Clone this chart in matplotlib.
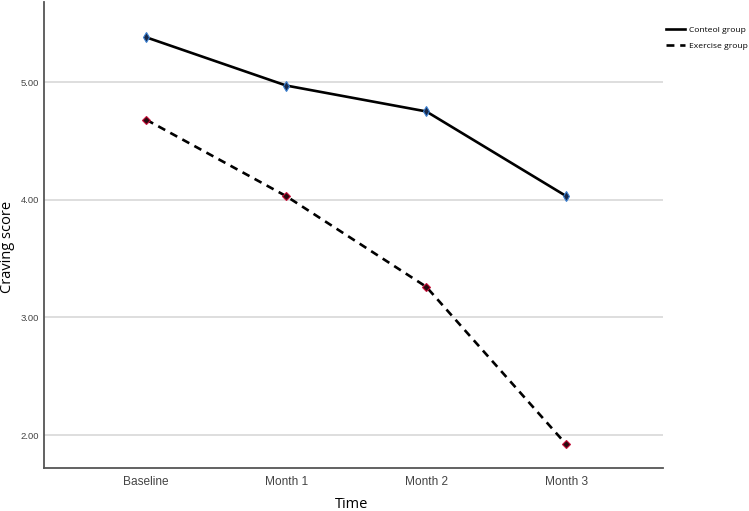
import matplotlib
matplotlib.use("Agg")
import matplotlib.pyplot as plt
from matplotlib.lines import Line2D

time_labels = ["Baseline", "Month 1", "Month 2", "Month 3"]
control = [5.38, 4.97, 4.75, 4.03]
exercise = [4.68, 4.03, 3.26, 1.92]
y_ticks = [2.0, 3.0, 4.0, 5.0]

fig = plt.figure(figsize=(7.49, 5.11), dpi=100)
ax = fig.add_axes([0.0587, 0.0841, 0.8264, 0.912])

x = list(range(len(time_labels)))
for yt in y_ticks:
    ax.axhline(yt, color="#d4d4d4", lw=1.1, zorder=0)

ax.plot(x, control, color="black", lw=1.9, zorder=2)
ax.plot(x, control, ls="none", marker="d", ms=5.5, mfc="#1a2a4a",
        mec="#3a7fd0", mew=0.8, zorder=3)
ax.plot(x, exercise, color="black", lw=1.9, ls=(0, (3, 2.2)), zorder=2)
ax.plot(x, exercise, ls="none", marker="D", ms=3.6, mfc="#2a0a10",
        mec="#c8103a", mew=0.8, zorder=3)

ax.set_xlim(-0.73, 3.69)
ax.set_ylim(1.72, 5.68)
ax.set_xticks(x)
ax.set_xticklabels(time_labels, fontsize=8.6, color="#444444", family="Liberation Sans")
ax.set_yticks(y_ticks)
ax.set_yticklabels([f"{v:.2f}" for v in y_ticks], fontsize=6.8, color="#444444",
                   family="Liberation Sans")
ax.tick_params(axis="y", length=0, pad=3.5)
ax.tick_params(axis="x", length=0, pad=6)

for s in ["top", "right"]:
    ax.spines[s].set_visible(False)
for s in ["left", "bottom"]:
    ax.spines[s].set_color("#555555")
    ax.spines[s].set_linewidth(1.3)

ax.set_xlabel("Time", fontsize=10.5, family="Open Sans")
ax.set_ylabel("Craving score", fontsize=10.5, family="Open Sans")
ax.xaxis.set_label_coords(0.497, -0.063)
ax.yaxis.set_label_coords(-0.046, 0.5 - 12 / 466)

handles = [Line2D([], [], color="black", lw=1.9),
           Line2D([], [], color="black", lw=1.9, ls=(0, (3, 2.2)))]
leg = fig.legend(handles, ["Conteol group", "Exercise group"],
                 loc="upper left", bbox_to_anchor=(0.889, 0.949),
                 frameon=False, prop={"family": "Open Sans", "size": 6.1},
                 handlelength=2.3, handletextpad=0.4, labelspacing=0.95,
                 borderaxespad=0, borderpad=0)

fig.savefig("out.png", dpi=100)
